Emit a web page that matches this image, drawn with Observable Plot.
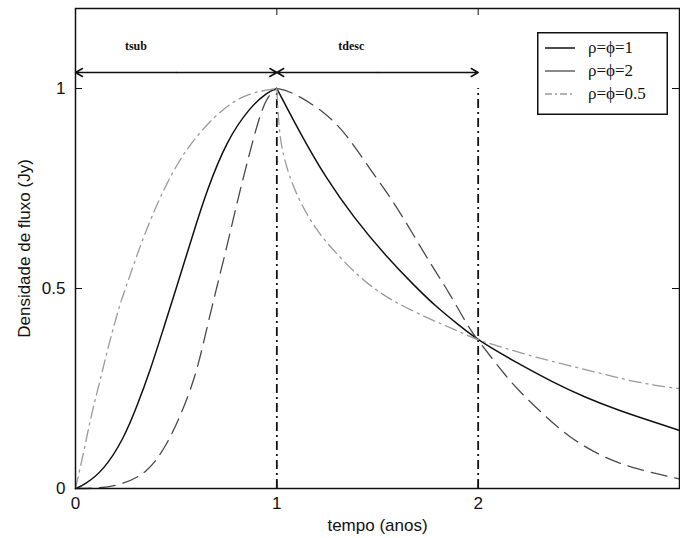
<!DOCTYPE html>
<html><head><meta charset="utf-8">
<script src="https://cdn.jsdelivr.net/npm/d3@7"></script>
<script src="https://cdn.jsdelivr.net/npm/@observablehq/plot@0.6"></script>
<style>
body{margin:0;background:#fff;}
#wrap{position:relative;width:680px;height:538px;}
#legend{position:absolute;left:537px;top:32px;}
</style></head><body><div id="wrap"></div>
<script>
// series names
const seriesNames = ["ρ=ϕ=1", "ρ=ϕ=2", "ρ=ϕ=0.5"];
// ρ=ϕ=1 (solid)
const s1RiseT = [0,0.041,0.14,0.24,0.305,0.371,0.437,0.503,0.58,0.652,0.751,0.866,0.95,1];
const s1RiseV = [0,0.008,0.045,0.125,0.205,0.295,0.40,0.505,0.63,0.745,0.87,0.953,0.99,1];
const s1FallT = [1,1.13,1.246,1.378,1.543,1.691,1.79,1.9,2,2.2,2.37,2.53,2.7,2.85,3];
const s1FallV = [1,0.875,0.775,0.68,0.58,0.503,0.455,0.41,0.37,0.312,0.266,0.228,0.195,0.17,0.145];
// ρ=ϕ=2 (dashed)
const s2RiseT = [0,0.1,0.223,0.355,0.454,0.536,0.602,0.652,0.70,0.75,0.80,0.85,0.916,0.96,1];
const s2RiseV = [0,0,0.008,0.037,0.108,0.199,0.29,0.40,0.50,0.60,0.71,0.81,0.937,0.985,1];
const s2FallT = [1,1.064,1.23,1.345,1.46,1.576,1.675,1.774,1.856,1.955,2,2.05,2.12,2.2,2.32,2.45,2.62,2.78,3];
const s2FallV = [1,0.995,0.945,0.887,0.80,0.72,0.637,0.553,0.49,0.40,0.37,0.338,0.292,0.245,0.187,0.128,0.078,0.049,0.024];
// ρ=ϕ=0.5 (dash-dot)
const s3RiseT = [0,0.041,0.074,0.107,0.14,0.173,0.223,0.256,0.322,0.42,0.503,0.569,0.685,0.833,1];
const s3RiseV = [0,0.091,0.174,0.24,0.3075,0.374,0.466,0.51,0.61,0.73,0.81,0.86,0.93,0.987,1];
const s3FallT = [1,1.01,1.03,1.097,1.196,1.295,1.427,1.526,1.609,1.774,1.873,2,2.12,2.285,2.45,2.615,2.78,2.946,3];
const s3FallV = [1,0.9,0.83,0.73,0.645,0.587,0.52,0.485,0.46,0.42,0.40,0.37,0.353,0.328,0.3075,0.287,0.266,0.253,0.25];

// axes
const xTickLabels = [0, 1, 2];
const xTickMarks = [0, 1, 2, 3];
const yTickLabels = [0, 0.5, 1];
const topTicks = [1, 2];
const rightTicks = [0.5, 1];
// annotations
const markerTimes = [1, 2];
const intervalNames = ["tsub", "tdesc"];
const intervalStart = [0, 1];
const intervalEnd = [1, 2];
const arrowLevel = 1.04;
const labelLevel = 1.105;
const labelPos = [0.30, 1.37];

const rows = [];
function add(name, part, T, V) { T.forEach((t, i) => rows.push({name, seg: name + part, t, v: V[i]})); }
add(seriesNames[0], "r", s1RiseT, s1RiseV); add(seriesNames[0], "f", s1FallT, s1FallV);
add(seriesNames[1], "r", s2RiseT, s2RiseV); add(seriesNames[1], "f", s2FallT, s2FallV);
add(seriesNames[2], "r", s3RiseT, s3RiseV); add(seriesNames[2], "f", s3FallT, s3FallV);

const styles = {
  [seriesNames[0]]: {stroke: "#111", dash: null, w: 1.5},
  [seriesNames[1]]: {stroke: "#4a4a4a", dash: "16,8", w: 1.3},
  [seriesNames[2]]: {stroke: "#9a9a9a", dash: "12,5,2,5", w: 1.3}
};

const arrows = [];
intervalStart.forEach((s, i) => {
  const m = (s + intervalEnd[i]) / 2;
  arrows.push({x1: m, x2: s}); arrows.push({x1: m, x2: intervalEnd[i]});
});
const labels = intervalNames.map((n, i) => ({n, t: labelPos[i]}));

const W = 680, H = 538, mT = 8, mB = 50, mL = 75, mR = 1;
const pw = W - mL - mR, ph = H - mT - mB, tk = 7;

const lineMarks = seriesNames.map(n => Plot.line(rows.filter(r => r.name === n), {
  x: "t", y: "v", z: "seg", curve: "basis",
  stroke: styles[n].stroke, strokeWidth: styles[n].w, strokeDasharray: styles[n].dash
}));

const chart = Plot.plot({
  width: W, height: H, marginTop: mT, marginBottom: mB, marginLeft: mL, marginRight: mR,
  x: {domain: [0, 3]}, y: {domain: [0, 1.2]},
  style: {fontFamily: "'Liberation Sans', Arial, sans-serif", fontSize: "17px", color: "#111", background: "#fff"},
  marks: [
    Plot.ruleX(markerTimes, {x: d => d, y1: () => 0, y2: () => 1, stroke: "#111", strokeWidth: 1.8, strokeDasharray: "9,4,2,4"}),
    ...lineMarks,
    Plot.arrow(arrows, {x1: "x1", x2: "x2", y1: () => arrowLevel, y2: () => arrowLevel, bend: 0, headLength: 8, stroke: "#111", strokeWidth: 1.5}),
    Plot.text(labels, {x: "t", y: () => labelLevel, text: "n", fontFamily: "'Liberation Serif', serif", fontWeight: "bold", fontSize: 12}),
    Plot.frame({stroke: "#111", strokeWidth: 1.5}),
    Plot.tickX(xTickMarks, {x: d => d, insetTop: ph - tk, stroke: "#111"}),
    Plot.tickX(topTicks, {x: d => d, insetBottom: ph - tk, stroke: "#111"}),
    Plot.tickY(yTickLabels, {y: d => d, insetRight: pw - tk, stroke: "#111"}),
    Plot.tickY(rightTicks, {y: d => d, insetLeft: pw - tk, stroke: "#111"}),
    Plot.axisX(xTickLabels, {tickSize: 0, tickPadding: 8, tickFormat: d => String(d), label: "tempo (anos)", labelAnchor: "center", labelArrow: "none", labelOffset: 42}),
    Plot.axisY(yTickLabels, {tickSize: 0, tickPadding: 10, tickFormat: d => String(d), label: "Densidade de fluxo (Jy)", labelAnchor: "center", labelArrow: "none", labelOffset: 58})
  ]
});
const wrap = document.getElementById("wrap");
wrap.appendChild(chart);

// legend overlay
const lg = document.createElement("div");
lg.id = "legend";
const lw = 131, lh = 83;
let svg = `<svg width="${lw}" height="${lh}" xmlns="http://www.w3.org/2000/svg"><rect x="0.75" y="0.75" width="${lw-1.5}" height="${lh-1.5}" fill="#fff" stroke="#111" stroke-width="1.5"/>`;
seriesNames.forEach((n, i) => {
  const y = 16 + i * 23;
  const s = styles[n];
  svg += `<line x1="8" x2="38" y1="${y}" y2="${y}" stroke="${s.stroke}" stroke-width="${s.w}" ${s.dash ? `stroke-dasharray="${i===2?'7,3,2,3':'30,0'}"` : ""}/>`;
  svg += `<text x="51" y="${y + 5}" font-family="'Liberation Serif', serif" font-size="17" fill="#111">${n}</text>`;
});
svg += `</svg>`;
lg.innerHTML = svg;
wrap.appendChild(lg);
</script>
</body></html>
